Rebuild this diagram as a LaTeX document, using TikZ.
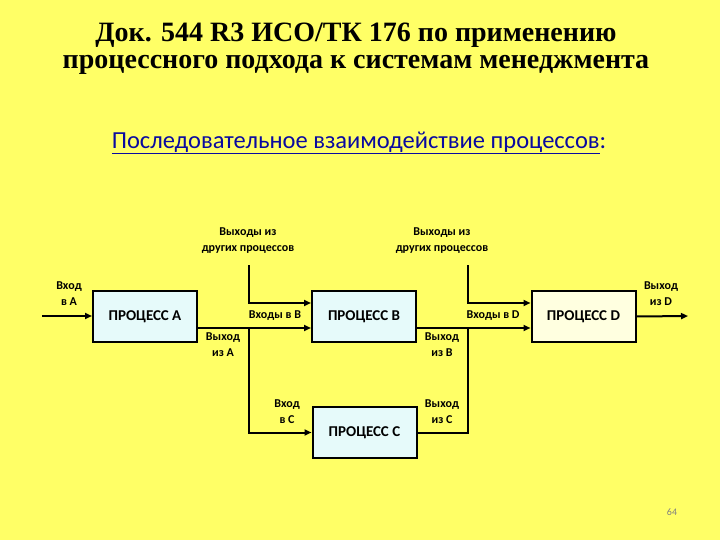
\documentclass[tikz,border=0pt]{standalone}
\usepackage{fontspec}
\setmainfont{Liberation Serif}
\newfontfamily\carlfont{Carlito}
\usetikzlibrary{arrows.meta}
\definecolor{bg}{HTML}{FFFF66}
\definecolor{boxc}{HTML}{E6FAFA}
\definecolor{boxy}{HTML}{FFFFE0}
\definecolor{subblue}{HTML}{0A0AA0}
\tikzset{
  proc/.style={draw=black, line width=2pt, minimum width=104pt, minimum height=51pt, inner sep=0pt, font=\carlfont\fontsize{15}{17}\selectfont\bfseries},
  lbl/.style={font=\carlfont\fontsize{12}{16}\selectfont\bfseries, align=center, inner sep=0pt},
  conn/.style={line width=2pt, line join=miter},
  arr/.style={conn, -{Triangle[length=7pt,width=6pt]}}
}
\begin{document}
\begin{tikzpicture}[x=1pt,y=-1pt]
\fill[bg] (0,0) rectangle (720,540);
\useasboundingbox (0,0) rectangle (720,540);
% titles
\node[font=\bfseries\fontsize{28}{27}\selectfont, align=center, text=black] (title) at (356,49) {Док. 544 R3 ИСО/ТК 176 по применению\\процессного подхода к системам менеджмента};
\node[font=\carlfont\fontsize{24.5}{26}\selectfont, text=subblue, inner sep=0pt] (sub) at (359,143) {\underline{Последовательное взаимодействие процессов}:};
% boxes
\node[proc, fill=boxc] (A) at (145,316.5) {ПРОЦЕСС A};
\node[proc, fill=boxc] (B) at (364,316.5) {ПРОЦЕСС B};
\node[proc, fill=boxy] (D) at (583.5,316.5) {ПРОЦЕСС D};
\node[proc, fill=boxc] (C) at (364.5,432.5) {ПРОЦЕСС C};
% coordinates
\coordinate (inA) at (42,316);
\coordinate (outD) at (688,316);
\coordinate (topB) at (249,265);
\coordinate (topD) at (468,265);
\coordinate (brA) at (249,328);
\coordinate (brB) at (468,328);
% connectors
\draw[arr] (inA) -- (inA -| A.west);
\draw[arr] (topB) |- (B.west |- 0,303);
\draw[arr] (A.east |- brA) -- (B.west |- brA);
\draw[arr] (brA) |- (C.west);
\draw[arr] (topD) |- (D.west |- 0,303);
\draw[arr] (B.east |- brB) -- (D.west |- brB);
\draw[conn] (C.east) -| (brB);
\draw[arr] (D.east) -- (outD);
% labels
\node[lbl] (l1) at (248,241) {Выходы из\\других процессов};
\node[lbl] (l2) at (442,241) {Выходы из\\других процессов};
\node[lbl] (l3) at (69,294) {Вход\\в A};
\node[lbl] (l4) at (275,316) {Входы в B};
\node[lbl] (l5) at (223,345) {Выход\\из A};
\node[lbl] (l6) at (493,316) {Входы в D};
\node[lbl] (l7) at (442,345) {Выход\\из B};
\node[lbl] (l8) at (661,294) {Выход\\из D};
\node[lbl] (l9) at (287,412) {Вход\\в C};
\node[lbl] (l10) at (442,412) {Выход\\из C};
\node[font=\carlfont\fontsize{10}{12}\selectfont, text=gray] (pg) at (672,512) {64};
\end{tikzpicture}
\end{document}
